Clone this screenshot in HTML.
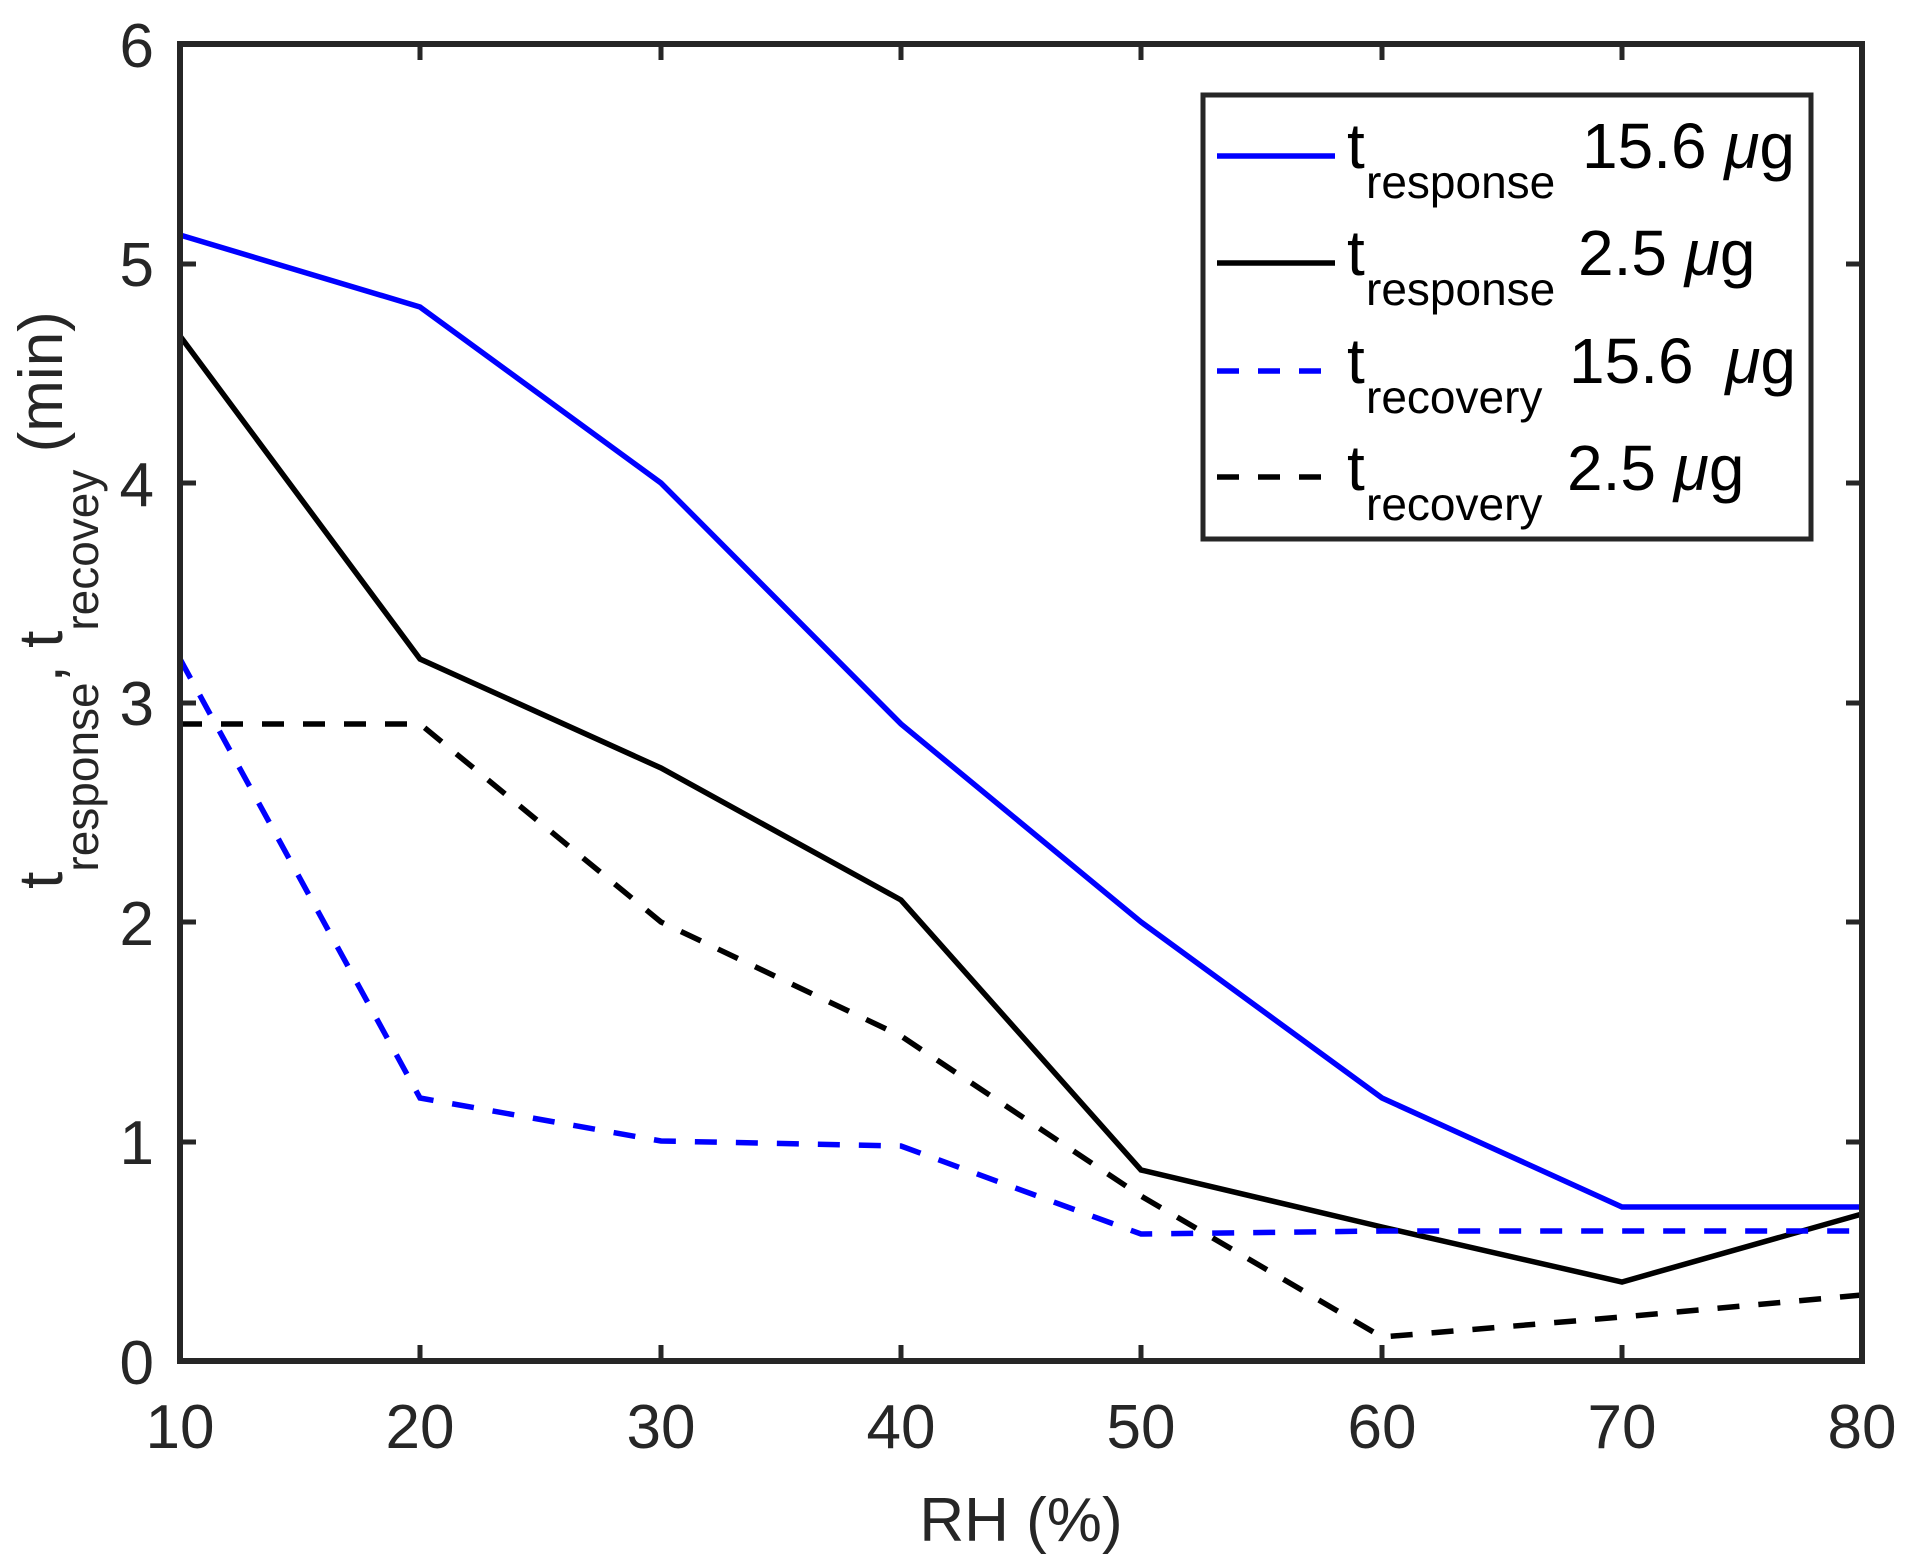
<!DOCTYPE html>
<html><head><meta charset="utf-8"><style>
html,body{margin:0;padding:0;background:#fff}
svg{display:block}
text{font-family:"Liberation Sans",Arial,sans-serif}
</style></head><body>
<svg width="1911" height="1563" viewBox="0 0 1911 1563" xmlns="http://www.w3.org/2000/svg">
<rect width="1911" height="1563" fill="#fff"/>
<g fill="none" stroke-width="5.5" stroke-linejoin="miter">
<polyline stroke="#0000ff" points="180,235 420,307 661,483 901,724 1141,922 1382,1098 1622,1207 1862,1207"/>
<polyline stroke="#000" points="180,336 420,659 661,768 901,900 1141,1170 1382,1227 1622,1282 1862,1214"/>
<polyline stroke="#0000ff" stroke-dasharray="22,19" points="180,659 420,1098 661,1141 901,1146 1141,1234 1382,1231 1622,1231 1862,1231"/>
<polyline stroke="#000" stroke-dasharray="22,19" points="180,724 420,724 661,922 901,1036 1141,1196 1382,1337 1622,1317 1862,1295"/>
</g>
<g stroke="#262626" stroke-width="6" fill="none">
<rect x="180" y="44" width="1682" height="1317"/>
</g>
<g stroke="#262626" stroke-width="5">
<line x1="180" y1="1142" x2="196" y2="1142"/><line x1="1862" y1="1142" x2="1846" y2="1142"/>
<line x1="180" y1="922" x2="196" y2="922"/><line x1="1862" y1="922" x2="1846" y2="922"/>
<line x1="180" y1="703" x2="196" y2="703"/><line x1="1862" y1="703" x2="1846" y2="703"/>
<line x1="180" y1="483" x2="196" y2="483"/><line x1="1862" y1="483" x2="1846" y2="483"/>
<line x1="180" y1="264" x2="196" y2="264"/><line x1="1862" y1="264" x2="1846" y2="264"/>
<line x1="420" y1="1361" x2="420" y2="1345"/><line x1="420" y1="44" x2="420" y2="60"/>
<line x1="661" y1="1361" x2="661" y2="1345"/><line x1="661" y1="44" x2="661" y2="60"/>
<line x1="901" y1="1361" x2="901" y2="1345"/><line x1="901" y1="44" x2="901" y2="60"/>
<line x1="1141" y1="1361" x2="1141" y2="1345"/><line x1="1141" y1="44" x2="1141" y2="60"/>
<line x1="1382" y1="1361" x2="1382" y2="1345"/><line x1="1382" y1="44" x2="1382" y2="60"/>
<line x1="1622" y1="1361" x2="1622" y2="1345"/><line x1="1622" y1="44" x2="1622" y2="60"/>
</g>
<g fill="#262626" font-size="62" text-anchor="end">
<text x="154" y="1384">0</text><text x="154" y="1164">1</text><text x="154" y="945">2</text>
<text x="154" y="725">3</text><text x="154" y="506">4</text><text x="154" y="286">5</text><text x="154" y="67">6</text>
</g>
<g fill="#262626" font-size="62" text-anchor="middle">
<text x="180" y="1448">10</text><text x="420" y="1448">20</text><text x="661" y="1448">30</text><text x="901" y="1448">40</text>
<text x="1141" y="1448">50</text><text x="1382" y="1448">60</text><text x="1622" y="1448">70</text><text x="1862" y="1448">80</text>
<text x="1021" y="1541">RH (%)</text>
</g>
<text transform="translate(62,600) rotate(-90)" fill="#262626" font-size="62" text-anchor="middle">t<tspan font-size="46" dy="36">response</tspan><tspan dy="-36">, t</tspan><tspan font-size="46" dy="36">recovey</tspan><tspan dy="-36"> (min)</tspan></text>
<rect x="1203" y="95" width="608" height="444" fill="#fff" stroke="#262626" stroke-width="5"/>
<line x1="1217" y1="156" x2="1335" y2="156" stroke="#0000ff" stroke-width="5.5"/>
<line x1="1217" y1="263" x2="1335" y2="263" stroke="#000" stroke-width="5.5"/>
<line x1="1217" y1="371" x2="1323" y2="371" stroke="#0000ff" stroke-width="5.5" stroke-dasharray="22,19"/>
<line x1="1217" y1="477" x2="1323" y2="477" stroke="#000" stroke-width="5.5" stroke-dasharray="22,19"/>
<g fill="#000" font-size="64">
<text x="1347" y="168">t</text><text x="1366" y="198" font-size="46">response</text><text x="1582" y="168">15.6 <tspan font-style="italic">μ</tspan>g</text>
<text x="1347" y="275">t</text><text x="1366" y="305" font-size="46">response</text><text x="1578" y="275">2.5 <tspan font-style="italic">μ</tspan>g</text>
<text x="1347" y="383">t</text><text x="1366" y="413" font-size="46">recovery</text><text x="1569" y="383">15.6 <tspan dx="14" font-style="italic">μ</tspan>g</text>
<text x="1347" y="490">t</text><text x="1366" y="520" font-size="46">recovery</text><text x="1567" y="490">2.5 <tspan font-style="italic">μ</tspan>g</text>
</g>
</svg>
</body></html>
